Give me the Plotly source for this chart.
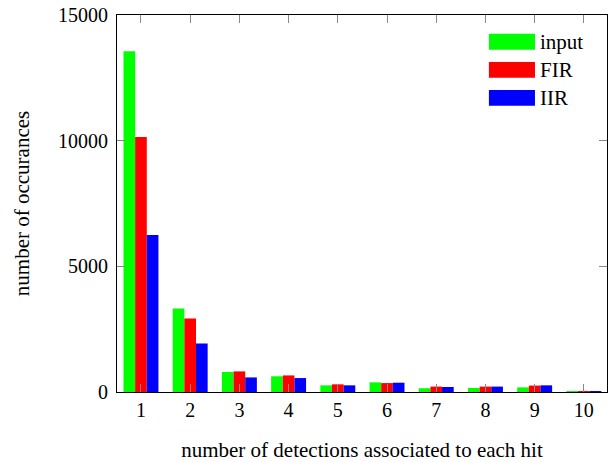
import plotly.graph_objects as go

categories = [1, 2, 3, 4, 5, 6, 7, 8, 9, 10]
input_vals = [13560, 3320, 795, 625, 265, 385, 150, 160, 185, 5]
fir_vals = [10150, 2925, 820, 660, 305, 355, 215, 215, 255, 5]
iir_vals = [6245, 1930, 580, 555, 265, 370, 200, 215, 265, 5]
y_ticks = [0, 5000, 10000, 15000]
series_names = ["input", "FIR", "IIR"]
series_colors = ["#00ff00", "#ff0000", "#0000ff"]

FONT = "Liberation Serif, Times New Roman, serif"

fig = go.Figure()
for name, vals, col in zip(series_names, [input_vals, fir_vals, iir_vals], series_colors):
    fig.add_trace(go.Bar(x=categories, y=vals, name=name, showlegend=False,
                         marker=dict(color=col, line=dict(width=0))))

# legend drawn as wide swatches + text (pgfplots style), in plot-area paper coordinates
shapes = []
annotations = []
for i, (name, col) in enumerate(zip(series_names, series_colors)):
    yc = 0.929 - i * 0.0745
    shapes.append(dict(type="rect", xref="paper", yref="paper",
                       x0=0.759, x1=0.853, y0=yc - 0.021, y1=yc + 0.021,
                       fillcolor=col, line=dict(width=0)))
    annotations.append(dict(xref="paper", yref="paper", x=0.86, y=yc,
                            xanchor="left", yanchor="middle", text=name,
                            showarrow=False, font=dict(family=FONT, size=21)))

fig.update_layout(
    width=616, height=462,
    margin=dict(l=117, r=9, t=15, b=70),
    barmode="group", bargap=0.29, bargroupgap=0,
    plot_bgcolor="white", paper_bgcolor="white",
    font=dict(family=FONT, size=21, color="black"),
    shapes=shapes, annotations=annotations,
)
fig.update_xaxes(
    range=[0.513, 10.47], tickmode="array", tickvals=categories,
    ticktext=[str(c) for c in categories], automargin=False,
    ticks="inside", ticklen=8, tickcolor="#888888", mirror="allticks",
    showline=True, linecolor="black", linewidth=1.2, showgrid=False,
    zeroline=False, tickfont=dict(size=20),
    title=dict(text="number of detections associated to each hit",
               font=dict(size=21), standoff=25),
)
fig.update_yaxes(
    range=[0, 15000], tickmode="array", tickvals=y_ticks,
    ticktext=[str(t) for t in y_ticks], automargin=False,
    ticks="inside", ticklen=8, tickcolor="#888888", mirror="allticks",
    showline=True, linecolor="black", linewidth=1.2, showgrid=False,
    zeroline=False, tickfont=dict(size=20), ticklabelstandoff=4,
    title=dict(text="number of occurances", font=dict(size=21), standoff=22),
)
fig.write_html("out.html")
